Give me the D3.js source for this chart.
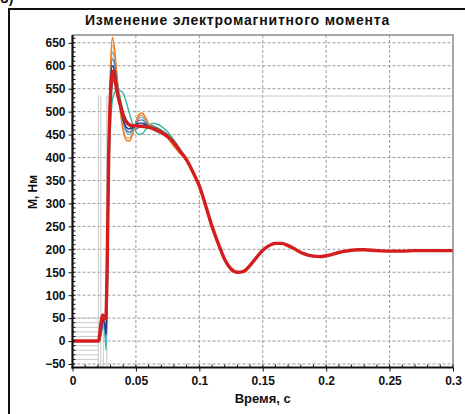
<!DOCTYPE html>
<html>
<head>
<meta charset="utf-8">
<script src="https://cdn.jsdelivr.net/npm/d3@7"></script>
<style>
  html, body { margin: 0; padding: 0; background: #fff; }
  svg { display: block; }
  text { font-family: "Liberation Sans", Arial, sans-serif; }
</style>
</head>
<body>
<svg id="chart" width="465" height="414"></svg>
<script>
// Electromagnetic torque transient, main trace (time in s, torque in N·m)
const timeMain = [0, 0.0205, 0.0225, 0.0238, 0.025, 0.0263, 0.0275, 0.0285, 0.030, 0.0315,
  0.0325, 0.034, 0.036, 0.038, 0.040, 0.043, 0.046, 0.050, 0.055, 0.060,
  0.065, 0.070, 0.075, 0.080, 0.085, 0.090, 0.095, 0.100, 0.105, 0.110,
  0.115, 0.120, 0.125, 0.130, 0.135, 0.140, 0.145, 0.150, 0.155, 0.160,
  0.165, 0.170, 0.175, 0.180, 0.185, 0.190, 0.195, 0.200, 0.205, 0.210,
  0.215, 0.220, 0.225, 0.230, 0.240, 0.250, 0.260, 0.270, 0.280, 0.290, 0.300];
const torqueMain = [0, 0, 40, 57, 48, 50, 200, 400, 540, 585,
  588, 562, 532, 510, 492, 476, 470, 469, 468, 466,
  462, 455, 446, 432, 413, 395, 368, 338, 295, 250,
  212, 178, 157, 150, 152, 165, 182, 198, 208, 213,
  213, 208, 201, 193, 188, 185, 184, 186, 189, 193,
  196, 198, 199, 199, 197, 196, 196, 197, 197, 197, 197];

// Start-up part of the parametric runs (they follow the main trace afterwards)
const timeEarly = [0, 0.0205, 0.0225, 0.024, 0.0255, 0.0265, 0.0275, 0.0285, 0.030, 0.0315,
  0.033, 0.035, 0.0375, 0.040, 0.0425, 0.045, 0.0475, 0.050, 0.0525, 0.055,
  0.0575, 0.060, 0.0625, 0.065, 0.070, 0.075, 0.080, 0.085, 0.090];
const torqueOrangeA = [0, 0, 30, 55, 42, 30, 170, 420, 600, 662, 640, 580, 505, 458, 437, 436, 452, 478, 494, 497, 488, 474, 465, 459, 452, 442, 424, 408, 392];
const torqueOrangeB = [0, 0, 25, 50, 40, 35, 160, 400, 585, 645, 630, 575, 508, 462, 443, 442, 455, 476, 490, 492, 484, 473, 465, 460, 453, 443, 427, 410, 393];
const torqueSteel   = [0, 0, 20, 45, 35, 10, 150, 390, 570, 615, 605, 568, 515, 480, 460, 455, 461, 473, 481, 482, 476, 468, 463, 460, 454, 444, 430, 412, 394];
const torqueNavy    = [0, 0, 20, 45, 35, 15, 140, 380, 560, 600, 590, 555, 512, 482, 466, 462, 465, 471, 475, 475, 472, 467, 463, 460, 454, 445, 431, 413, 394];
const torqueSky     = [0, 0, 20, 40, 30, 0, 130, 370, 560, 630, 618, 575, 515, 475, 455, 450, 458, 474, 486, 488, 480, 470, 463, 458, 452, 444, 428, 411, 393];
const torqueTeal    = [0, 0, 15, 35, 20, -20, 100, 330, 470, 525, 540, 548, 546, 540, 520, 495, 472, 456, 450, 452, 460, 468, 474, 474, 468, 456, 438, 418, 396];
const torqueSea     = [0, 0, 15, 40, 25, -5, 120, 350, 500, 560, 570, 560, 530, 500, 480, 468, 462, 462, 466, 470, 472, 472, 470, 467, 460, 450, 434, 414, 395];

const runSeries = [
  { values: torqueSea,     color: "#2e8b8b" },
  { values: torqueTeal,    color: "#3cb4a0" },
  { values: torqueSky,     color: "#6fb0d8" },
  { values: torqueOrangeB, color: "#f4a460" },
  { values: torqueOrangeA, color: "#f07c1e" },
  { values: torqueSteel,   color: "#4682b4" },
  { values: torqueNavy,    color: "#28308c" }
];

// Axis ticks
const yTicks = [-50, 0, 50, 100, 150, 200, 250, 300, 350, 400, 450, 500, 550, 600, 650];
const xTicks = [0, 0.05, 0.1, 0.15, 0.2, 0.25, 0.3];
const xTickLabels = ["0", "0.05", "0.1", "0.15", "0.2", "0.25", "0.3"];

// Texts
const titleText = "Изменение электромагнитного момента";
const xLabel = "Время, с";
const yLabel = "М, Нм";
const panelMark = "б)";

// Faint legend-table outline behind the traces
const tableRowLevels = [50, 40, 30, 20, 10, -10, -20, -30, -40];
const tableColumnTimes = [0.0204, 0.0223, 0.0243, 0.0270];
const tableTopLevel = 534;

const svg = d3.select("#chart");
const x = d3.scaleLinear().domain([0, 0.3]).range([72.5, 453]);
const y = d3.scaleLinear().domain([-57.6, 667]).range([367.5, 35]);

// Outer frame
svg.append("path")
  .attr("d", "M9,470 L9,9 L470,9")
  .attr("fill", "none").attr("stroke", "#111").attr("stroke-width", 2);

svg.append("text").attr("x", 0).attr("y", 3)
  .attr("font-size", 14).attr("font-weight", "bold").attr("fill", "#111")
  .text(panelMark);

// Title
svg.append("text")
  .attr("x", 237.5).attr("y", 25)
  .attr("text-anchor", "middle")
  .attr("font-size", 14).attr("font-weight", "bold").attr("fill", "#111")
  .attr("letter-spacing", 0.8)
  .text(titleText);

const plot = svg.append("g");

// Dashed grid
plot.selectAll(".gy").data(yTicks).join("line")
  .attr("x1", x(0)).attr("x2", x(0.3))
  .attr("y1", d => y(d)).attr("y2", d => y(d))
  .attr("stroke", "#9a9a9a").attr("stroke-width", 1).attr("stroke-dasharray", "3,2");
plot.selectAll(".gx").data(xTicks.slice(1, -1)).join("line")
  .attr("x1", d => x(d)).attr("x2", d => x(d))
  .attr("y1", y.range()[1]).attr("y2", y.range()[0])
  .attr("stroke", "#9a9a9a").attr("stroke-width", 1).attr("stroke-dasharray", "3,2");

// Legend-table outline
const tbl = plot.append("g").attr("stroke", "#c9c9c9").attr("stroke-width", 1).attr("fill", "none");
tbl.selectAll(".row").data(tableRowLevels).join("line")
  .attr("x1", x(0)).attr("x2", x(tableColumnTimes[0]))
  .attr("y1", d => y(d)).attr("y2", d => y(d));
tbl.selectAll(".col").data(tableColumnTimes).join("line")
  .attr("x1", d => x(d)).attr("x2", d => x(d))
  .attr("y1", (d, i) => i === 2 ? y(50) : y(tableTopLevel)).attr("y2", y.range()[0]);
tbl.append("line")
  .attr("x1", x(tableColumnTimes[0])).attr("x2", x(tableColumnTimes[1]))
  .attr("y1", y(tableTopLevel)).attr("y2", y(tableTopLevel));
tbl.append("line")
  .attr("x1", x(tableColumnTimes[3])).attr("x2", x(0.3))
  .attr("y1", y(tableTopLevel)).attr("y2", y(tableTopLevel));

// Traces
const line = d3.line()
  .x(d => x(d[0])).y(d => y(d[1]))
  .curve(d3.curveMonotoneX);

const tailPairs = timeMain.map((t, i) => [t, torqueMain[i]]).filter(d => d[0] > 0.0905);

runSeries.forEach(s => {
  const pts = timeEarly.map((t, i) => [t, s.values[i]]).concat(tailPairs);
  plot.append("path").datum(pts)
    .attr("d", line).attr("fill", "none")
    .attr("stroke", s.color).attr("stroke-width", 1.4).attr("stroke-linejoin", "round");
});

plot.append("path").datum(timeMain.map((t, i) => [t, torqueMain[i]]))
  .attr("d", line).attr("fill", "none")
  .attr("stroke", "#d41e1e").attr("stroke-width", 3.4)
  .attr("stroke-linejoin", "round");

// Plot border: grey top/right, black left/bottom axes
plot.append("path")
  .attr("d", `M${x(0)},${y.range()[1]} L${x(0.3)},${y.range()[1]} L${x(0.3)},${y.range()[0]}`)
  .attr("fill", "none").attr("stroke", "#8a8a8a").attr("stroke-width", 1.5);

// Y axis
const yAxis = d3.axisLeft(y).tickValues(yTicks).tickSize(4).tickPadding(3).tickFormat(d3.format("d"));
const gy = svg.append("g").attr("transform", `translate(${x(0)},0)`).call(yAxis);
gy.select(".domain").remove();
gy.selectAll(".tick line").attr("stroke", "#111");
gy.selectAll(".tick text").attr("font-size", 12).attr("font-weight", "bold")
  .attr("fill", "#111").attr("font-family", "Liberation Sans, Arial, sans-serif");
// minor ticks on y, pointing inward
gy.selectAll(".minor").data(d3.range(-50, 661, 10)).join("line")
  .attr("x1", 0).attr("x2", 3)
  .attr("y1", d => y(d)).attr("y2", d => y(d))
  .attr("stroke", "#111").attr("stroke-width", 1);
gy.append("line").attr("x1", 0).attr("x2", 0)
  .attr("y1", y.range()[1]).attr("y2", y.range()[0] + 1)
  .attr("stroke", "#111").attr("stroke-width", 2.2);

// X axis
const xAxis = d3.axisBottom(x).tickValues(xTicks).tickSize(4).tickPadding(5)
  .tickFormat((d, i) => xTickLabels[i]);
const gx = svg.append("g").attr("transform", `translate(0,${y.range()[0]})`).call(xAxis);
gx.select(".domain").remove();
gx.selectAll(".tick line").attr("stroke", "#111");
gx.selectAll(".tick text").attr("font-size", 12).attr("font-weight", "bold")
  .attr("fill", "#111").attr("font-family", "Liberation Sans, Arial, sans-serif");
gx.selectAll(".minor").data(d3.range(0, 31).map(k => k / 100)).join("line")
  .attr("x1", d => x(d)).attr("x2", d => x(d))
  .attr("y1", 0).attr("y2", -3)
  .attr("stroke", "#111").attr("stroke-width", 1);
gx.append("line").attr("x1", x(0) - 1).attr("x2", x(0.3))
  .attr("y1", 0).attr("y2", 0)
  .attr("stroke", "#111").attr("stroke-width", 2.2);

// Axis titles
svg.append("text")
  .attr("x", (x(0) + x(0.3)) / 2).attr("y", 403)
  .attr("text-anchor", "middle")
  .attr("font-size", 13).attr("font-weight", "bold").attr("fill", "#111")
  .text(xLabel);
svg.append("text")
  .attr("transform", `translate(37,${192}) rotate(-90)`)
  .attr("text-anchor", "middle")
  .attr("font-size", 12).attr("font-weight", "bold").attr("fill", "#111")
  .text(yLabel);
</script>
</body>
</html>
